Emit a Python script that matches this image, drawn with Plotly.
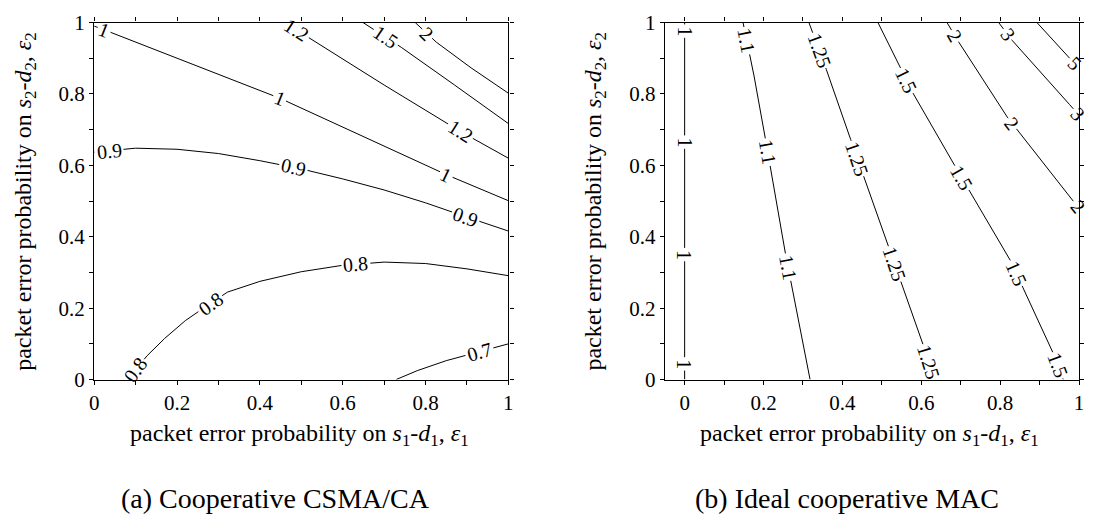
import math
import plotly.graph_objects as go

W, H = 1095, 530
FONT = "Liberation Serif, Times New Roman, serif"

# ---------------- (a) Cooperative CSMA/CA : contour lines ----------------
a070_x = [0.729, 0.78, 0.85, 0.93, 1.0]
a070_y = [0.0, 0.025, 0.053, 0.078, 0.1]
a080_x = [0.082, 0.10, 0.128, 0.17, 0.22, 0.28, 0.322, 0.40, 0.50, 0.60, 0.70, 0.80, 0.90, 1.0]
a080_y = [0.0, 0.028, 0.067, 0.115, 0.165, 0.213, 0.245, 0.275, 0.302, 0.32, 0.329, 0.325, 0.31, 0.291]
a090_x = [0.0, 0.1, 0.2, 0.3, 0.4, 0.5, 0.6, 0.7, 0.8, 0.9, 1.0]
a090_y = [0.637, 0.648, 0.645, 0.633, 0.613, 0.59, 0.562, 0.531, 0.495, 0.455, 0.416]
a100_x = [0.0, 0.061, 0.2, 0.448, 0.65, 0.85, 1.0]
a100_y = [0.99, 0.963, 0.90, 0.788, 0.681, 0.574, 0.501]
a120_x = [0.46, 0.523, 0.70, 0.884, 1.0]
a120_y = [1.0, 0.954, 0.825, 0.695, 0.62]
a150_x = [0.649, 0.742, 0.87, 1.0]
a150_y = [1.0, 0.93, 0.825, 0.717]
a200_x = [0.775, 0.826, 0.91, 1.0]
a200_y = [1.0, 0.945, 0.873, 0.802]

# label anchors along each line (given as eps1 values)
a070_lab = [0.93]
a080_lab = [0.099, 0.28, 0.632]
a090_lab = [0.036, 0.481, 0.897]
a100_lab = [0.024, 0.448, 0.85]
a120_lab = [0.489, 0.884]
a150_lab = [0.704]
a200_lab = [0.804]

levels_a = [0.7, 0.8, 0.9, 1.0, 1.2, 1.5, 2.0]

# ---------------- (b) Ideal cooperative MAC : contour lines ----------------
b100_x = [0.0, 0.0]
b100_y = [1.0, 0.0]
b110_x = [0.148, 0.176, 0.207, 0.256, 0.318]
b110_y = [1.0, 0.85, 0.66, 0.35, 0.0]
b125_x = [0.315, 0.359, 0.421, 0.518, 0.606, 0.633]
b125_y = [1.0, 0.869, 0.672, 0.369, 0.093, 0.0]
b150_x = [0.49, 0.58, 0.70, 0.826, 0.932, 0.96]
b150_y = [1.0, 0.80, 0.57, 0.333, 0.08, 0.0]
b200_x = [0.665, 0.695, 0.818, 0.976, 1.0]
b200_y = [1.0, 0.945, 0.735, 0.512, 0.48]
b300_x = [0.796, 0.831, 0.976, 1.0]
b300_y = [1.0, 0.949, 0.77, 0.74]
b500_x = [0.893, 0.976, 1.0]
b500_y = [1.0, 0.90, 0.875]

# label anchors along each line (given as eps2 values)
b100_lab = [0.976, 0.665, 0.35, 0.044]
b110_lab = [0.949, 0.637, 0.315]
b125_lab = [0.922, 0.619, 0.324, 0.049]
b150_lab = [0.8375, 0.565, 0.298, 0.04]
b200_lab = [0.9625, 0.717, 0.485]
b300_lab = [0.967, 0.744]
b500_lab = [0.887]

levels_b = [1.0, 1.1, 1.25, 1.5, 2.0, 3.0, 5.0]

tick_vals = [round(0.1 * i, 1) for i in range(11)]
tick_text = ["0", "", "0.2", "", "0.4", "", "0.6", "", "0.8", "", "1"]

# ---------------- layout geometry ----------------
y_dom = [145 / H, 519 / H]
xa_dom = [90 / W, 508 / W]
xb_dom = [666 / W, 1084 / W]
xa_rng = [0.0, 1.0]
xb_rng = [-0.05, 1.0]
y_rng = [0.0, 1.0]

LAB_SIZE = 20
TICK_SIZE = 21
TITLE_SIZE = 24
CAP_SIZE = 28


def scale(dom, rng, total):
    return total * (dom[1] - dom[0]) / (rng[1] - rng[0])


def polyline_px(xs, ys, sx, sy):
    px = [x * sx for x in xs]
    py = [-y * sy for y in ys]
    cum = [0.0]
    for i in range(len(px) - 1):
        cum.append(cum[-1] + math.hypot(px[i + 1] - px[i], py[i + 1] - py[i]))
    return px, py, cum


def point_at(xs, ys, cum, s):
    for i in range(len(cum) - 1):
        if cum[i] <= s <= cum[i + 1] or i == len(cum) - 2:
            seg = cum[i + 1] - cum[i]
            t = 0.0 if seg == 0 else (s - cum[i]) / seg
            t = min(max(t, 0.0), 1.0)
            return xs[i] + t * (xs[i + 1] - xs[i]), ys[i] + t * (ys[i + 1] - ys[i])


def locate(xs, ys, px, py, cum, key, val):
    """Arc position, data point and text angle where the line meets key == val."""
    c = xs if key == "x" else ys
    for i in range(len(c) - 1):
        lo, hi = sorted((c[i], c[i + 1]))
        if lo <= val <= hi and c[i + 1] != c[i]:
            t = (val - c[i]) / (c[i + 1] - c[i])
            s = cum[i] + t * (cum[i + 1] - cum[i])
            ang = math.degrees(math.atan2(py[i + 1] - py[i], px[i + 1] - px[i]))
            if ang > 90:
                ang -= 180
            if ang <= -90:
                ang += 180
            return s, point_at(xs, ys, cum, s), ang
    return None


def text_width(txt, size):
    return sum(0.26 * size if ch == "." else 0.5 * size for ch in txt)


def contour(fig, xs, ys, level, anchors, key, xref, yref, sx, sy):
    px, py, cum = polyline_px(xs, ys, sx, sy)
    txt = f"{level:g}"
    half = text_width(txt, LAB_SIZE) / 2 + 2
    gaps = []
    for v in anchors:
        s, (lx, ly), ang = locate(xs, ys, px, py, cum, key, v)
        gaps.append((s - half, s + half))
        fig.add_annotation(x=lx, y=ly, xref=xref, yref=yref, text=txt,
                           textangle=ang, showarrow=False,
                           xanchor="center", yanchor="middle",
                           font=dict(family=FONT, size=LAB_SIZE, color="black"))
    # keep the parts of the line not covered by labels
    L = cum[-1]
    gaps.sort()
    kept, start = [], 0.0
    for g0, g1 in gaps:
        if g0 > start:
            kept.append((start, min(g0, L)))
        start = max(start, g1)
    if start < L:
        kept.append((start, L))
    lx_all, ly_all = [], []
    for a, b in kept:
        if b <= a:
            continue
        p = point_at(xs, ys, cum, a)
        lx_all.append(p[0]); ly_all.append(p[1])
        for i, s in enumerate(cum):
            if a < s < b:
                lx_all.append(xs[i]); ly_all.append(ys[i])
        p = point_at(xs, ys, cum, b)
        lx_all.append(p[0]); ly_all.append(p[1])
        lx_all.append(None); ly_all.append(None)
    fig.add_trace(go.Scatter(x=lx_all, y=ly_all, mode="lines", xaxis=xref, yaxis=yref,
                             line=dict(color="black", width=1), hoverinfo="skip",
                             showlegend=False))


fig = go.Figure()

sxa, sya = scale(xa_dom, xa_rng, W), scale(y_dom, y_rng, H)
sxb, syb = scale(xb_dom, xb_rng, W), sya

lines_a = [(a070_x, a070_y, a070_lab), (a080_x, a080_y, a080_lab), (a090_x, a090_y, a090_lab),
           (a100_x, a100_y, a100_lab), (a120_x, a120_y, a120_lab), (a150_x, a150_y, a150_lab),
           (a200_x, a200_y, a200_lab)]
for lvl, (xs, ys, lab) in zip(levels_a, lines_a):
    contour(fig, xs, ys, lvl, lab, "x", "x", "y", sxa, sya)

lines_b = [(b100_x, b100_y, b100_lab), (b110_x, b110_y, b110_lab), (b125_x, b125_y, b125_lab),
           (b150_x, b150_y, b150_lab), (b200_x, b200_y, b200_lab), (b300_x, b300_y, b300_lab),
           (b500_x, b500_y, b500_lab)]
for lvl, (xs, ys, lab) in zip(levels_b, lines_b):
    contour(fig, xs, ys, lvl, lab, "y", "x2", "y2", sxb, syb)

axis_common = dict(showline=True, linecolor="black", linewidth=1.3, mirror="ticks",
                   ticks="outside", ticklen=4, tickwidth=1, tickcolor="black",
                   showgrid=False, zeroline=False, tickmode="array",
                   tickvals=tick_vals, ticktext=tick_text, ticklabeloverflow="allow",
                   tickfont=dict(family=FONT, size=TICK_SIZE, color="black"))

fig.update_layout(
    width=W, height=H, margin=dict(l=0, r=0, t=0, b=0),
    paper_bgcolor="white", plot_bgcolor="white",
    font=dict(family=FONT, color="black"),
    xaxis=dict(domain=xa_dom, range=xa_rng, anchor="y", **axis_common),
    yaxis=dict(domain=y_dom, range=y_rng, anchor="x", **axis_common),
    xaxis2=dict(domain=xb_dom, range=xb_rng, anchor="y2", **axis_common),
    yaxis2=dict(domain=y_dom, range=y_rng, anchor="x2", **axis_common),
)

x_title = "packet error probability on <i>s</i><sub>1</sub>-<i>d</i><sub>1</sub>, <i>ε</i><sub>1</sub>"
y_title = "packet error probability on <i>s</i><sub>2</sub>-<i>d</i><sub>2</sub>, <i>ε</i><sub>2</sub>"
title_font = dict(family=FONT, size=TITLE_SIZE, color="black")
cap_font = dict(family=FONT, size=CAP_SIZE, color="black")
y_mid = (y_dom[0] + y_dom[1]) / 2
centered = dict(xref="paper", yref="paper", showarrow=False,
                xanchor="center", yanchor="middle")

for xc, yl_x, cap, cap_x in [(297 / W, 20 / W, "(a) Cooperative CSMA/CA", 273 / W),
                             (872 / W, 595 / W, "(b) Ideal cooperative MAC", 850 / W)]:
    fig.add_annotation(x=xc, y=(530 - 443) / H, text=x_title, font=title_font, **centered)
    fig.add_annotation(x=yl_x, y=y_mid, text=y_title, textangle=-90, font=title_font,
                       **centered)
    fig.add_annotation(x=cap_x, y=(530 - 510) / H, text=cap, font=cap_font, **centered)

fig.write_html("out.html", config={"displayModeBar": False})
